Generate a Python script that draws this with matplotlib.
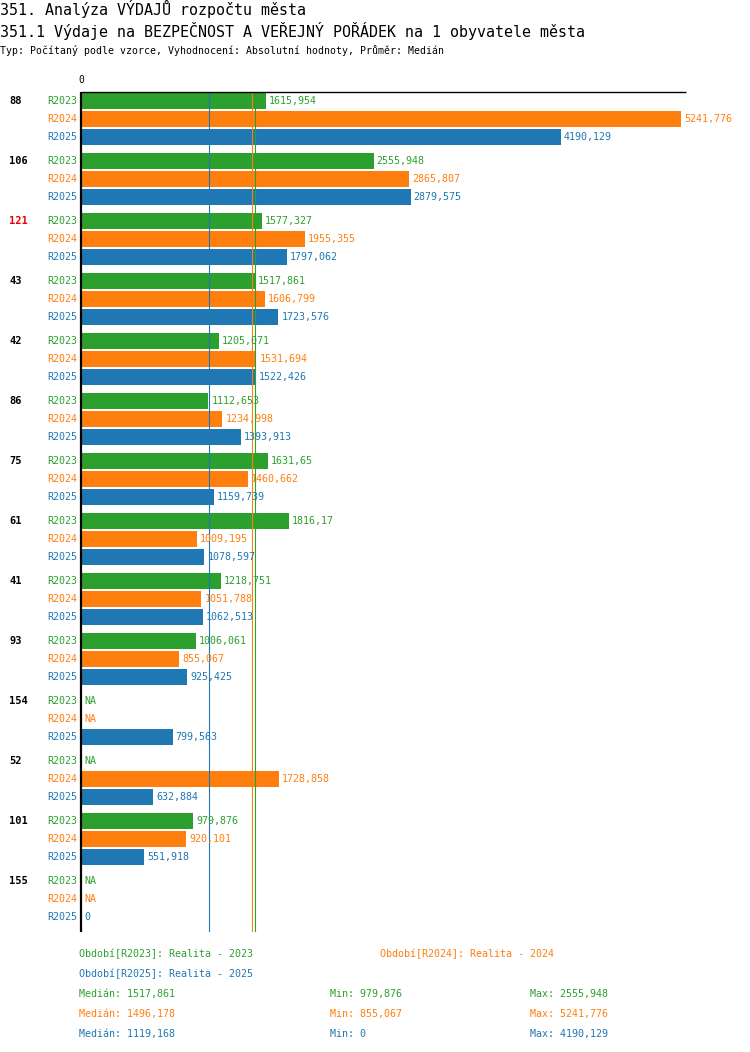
import matplotlib
matplotlib.use("Agg")
import matplotlib.pyplot as plt
import numpy as np

# ---- data ----
categories = ["88", "106", "121", "43", "42", "86", "75", "61", "41", "93", "154", "52", "101", "155"]
highlight = "121"
series_names = ["R2023", "R2024", "R2025"]
series_desc = ["Období[R2023]: Realita - 2023", "Období[R2024]: Realita - 2024", "Období[R2025]: Realita - 2025"]
NA = None
r2023 = [1615.954, 2555.948, 1577.327, 1517.861, 1205.071, 1112.653, 1631.65, 1816.17, 1218.751, 1006.061, NA, NA, 979.876, NA]
r2024 = [5241.776, 2865.807, 1955.355, 1606.799, 1531.694, 1234.998, 1460.662, 1009.195, 1051.788, 855.067, NA, 1728.858, 920.101, NA]
r2025 = [4190.129, 2879.575, 1797.062, 1723.576, 1522.426, 1393.913, 1159.739, 1078.597, 1062.513, 925.425, 799.563, 632.884, 551.918, 0.0]
series = [r2023, r2024, r2025]
medians = [1517.861, 1496.178, 1119.168]
mins = [979.876, 855.067, 0.0]
maxs = [2555.948, 5241.776, 4190.129]
colors = ["#2ca02c", "#ff7f0e", "#1f77b4"]

title1 = "351. Analýza VÝDAJŮ rozpočtu města"
title2 = "351.1 Výdaje na BEZPEČNOST A VEŘEJNÝ POŘÁDEK na 1 obyvatele města"
subtitle = "Typ: Počítaný podle vzorce, Vyhodnocení: Absolutní hodnoty, Průměr: Medián"

MONO = ["DejaVu Sans Mono", "Liberation Mono"]
plt.rcParams["font.family"] = MONO

W, H = 750, 1052
fig = plt.figure(figsize=(W / 100, H / 100), dpi=100)

def fx(px):
    return px / W

def fy(py):
    return 1 - py / H

def fmt(v):
    s = f"{v:.3f}".rstrip("0").rstrip(".")
    return s.replace(".", ",")

# axes placement (pixels)
ax_left, ax_right, ax_top, ax_bot = 81, 735, 92, 932
vmax = max(maxs)
px_per_unit = 600 / vmax
xlim_max = (ax_right - ax_left) / px_per_unit
ax = fig.add_axes([fx(ax_left), fy(ax_bot), fx(ax_right - ax_left), (ax_bot - ax_top) / H])
ax.set_xlim(0, xlim_max)
total = (ax_bot - ax_top)
ax.set_ylim(total, 0)
ax.axis("off")

group_step, bar_step, bar_h = 60, 18, 16
for gi, cat in enumerate(categories):
    for si, vals in enumerate(series):
        yc = gi * group_step + si * bar_step + 9
        v = vals[gi]
        # series label
        ax.annotate(series_names[si], xy=(0, yc), xytext=(-2.5, 0), textcoords="offset points",
                    ha="right", va="center", fontsize=7.2, color=colors[si])
        if v is None:
            ax.annotate("NA", xy=(0, yc), xytext=(2.2, 0), textcoords="offset points",
                        ha="left", va="center", fontsize=7.2, color=colors[si])
        else:
            ax.barh(yc, v, height=bar_h, left=0, color=colors[si], edgecolor="none", zorder=2)
            ax.annotate(fmt(v), xy=(v, yc), xytext=(2.2, 0), textcoords="offset points",
                        ha="left", va="center", fontsize=7.2, color=colors[si], zorder=4)
    # category label
    fig.text(fx(9), fy(ax_top + gi * group_step + 9), cat, ha="left", va="center",
             fontsize=7.5, fontweight="bold", color=("#ee0000" if cat == highlight else "black"))

# median lines
for si in range(3):
    ax.axvline(medians[si], color=colors[si], lw=0.8, zorder=3)

# left axis and top line
ax.plot([0, 0], [0, total], color="black", lw=1.6, zorder=5, clip_on=False, solid_capstyle="butt")
ax.plot([0, vmax * 1.0085], [0, 0], color="black", lw=1.0, zorder=5, clip_on=False, solid_capstyle="butt")
fig.text(fx(81), fy(80), "0", ha="center", va="center", fontsize=7, color="black")

# titles
fig.text(fx(0), fy(9), title1, ha="left", va="center", fontsize=10.8, color="black")
fig.text(fx(0), fy(31), title2, ha="left", va="center", fontsize=10.8, color="black")
fig.text(fx(0), fy(50), subtitle, ha="left", va="center", fontsize=7.1, color="black")

# legend
fig.text(fx(79), fy(954), series_desc[0], ha="left", va="center", fontsize=7.2, color=colors[0])
fig.text(fx(380), fy(954), series_desc[1], ha="left", va="center", fontsize=7.2, color=colors[1])
fig.text(fx(79), fy(974), series_desc[2], ha="left", va="center", fontsize=7.2, color=colors[2])
for si in range(3):
    yy = fy(994 + 20 * si)
    fig.text(fx(79), yy, "Medián: " + fmt(medians[si]), ha="left", va="center", fontsize=7.2, color=colors[si])
    fig.text(fx(330), yy, "Min: " + fmt(mins[si]), ha="left", va="center", fontsize=7.2, color=colors[si])
    fig.text(fx(530), yy, "Max: " + fmt(maxs[si]), ha="left", va="center", fontsize=7.2, color=colors[si])

fig.savefig("out.png", dpi=100, facecolor="white")
